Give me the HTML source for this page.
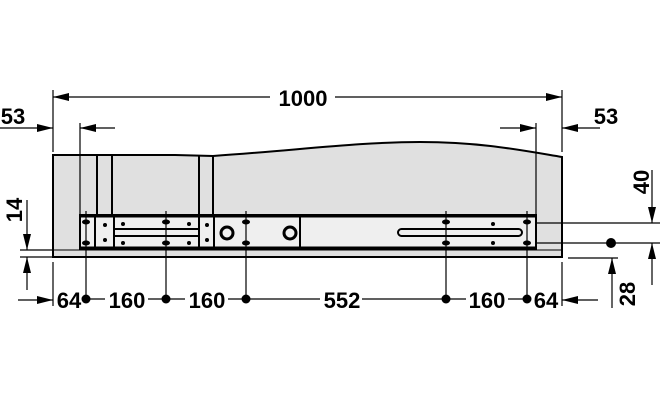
<!DOCTYPE html>
<html><head><style>body{margin:0;background:#fff}svg{display:block}</style></head><body>
<svg width="660" height="400" viewBox="0 0 660 400" xmlns="http://www.w3.org/2000/svg" font-family="Liberation Sans, sans-serif" font-weight="bold">
<defs>
<marker id="b" viewBox="0 0 16 8" refX="16" refY="4" markerWidth="16" markerHeight="8" orient="auto" markerUnits="userSpaceOnUse"><path d="M0,0L16,4L0,8z" fill="#000"/></marker></defs>
<!-- panel -->
<path d="M53,155 L175,155 L213,156 C300,150 360,142 420,142 C480,142 520,150 562,157 L562,257 L53,257 Z" fill="#e0e0e0" stroke="#000" stroke-width="2"/>
<line x1="53" y1="250" x2="562" y2="250" stroke="#000" stroke-width="1"/>
<g stroke="#000" stroke-width="2"><line x1="97" y1="156" x2="97" y2="215"/><line x1="112" y1="156" x2="112" y2="215"/><line x1="199" y1="156" x2="199" y2="215"/><line x1="213" y1="156" x2="213" y2="215"/></g>
<!-- rail -->
<rect x="80" y="215" width="456" height="34" fill="#efefef" stroke="#000" stroke-width="2"/>
<line x1="80" y1="216" x2="536" y2="216" stroke="#000" stroke-width="3"/>
<line x1="80" y1="248" x2="536" y2="248" stroke="#000" stroke-width="3"/>
<g stroke="#000" stroke-width="2" fill="none"><line x1="95" y1="216" x2="95" y2="248"/><line x1="114" y1="216" x2="114" y2="248"/><line x1="199" y1="216" x2="199" y2="248"/><line x1="214" y1="216" x2="214" y2="248"/><line x1="300" y1="216" x2="300" y2="248"/>
<line x1="114" y1="229" x2="199" y2="229"/><line x1="114" y1="236" x2="199" y2="236"/>
<rect x="398" y="229" width="124" height="7" rx="3.5"/>
<circle cx="227" cy="233" r="6" stroke-width="3"/><circle cx="290" cy="233" r="6" stroke-width="3"/></g>
<g fill="#000"><circle cx="105" cy="225" r="2"/><circle cx="105" cy="240" r="2"/><circle cx="123" cy="224" r="2"/><circle cx="123" cy="243" r="2"/><circle cx="189" cy="224" r="2"/><circle cx="189" cy="243" r="2"/><circle cx="207" cy="225" r="2"/><circle cx="207" cy="240" r="2"/><circle cx="493" cy="224" r="2"/><circle cx="493" cy="243" r="2"/>
<g><ellipse cx="86" cy="222" rx="4" ry="2.5"/><ellipse cx="86" cy="243" rx="4" ry="2.5"/><ellipse cx="166" cy="222" rx="4" ry="2.5"/><ellipse cx="166" cy="243" rx="4" ry="2.5"/><ellipse cx="246" cy="222" rx="4" ry="2.5"/><ellipse cx="246" cy="243" rx="4" ry="2.5"/><ellipse cx="446" cy="222" rx="4" ry="2.5"/><ellipse cx="446" cy="243" rx="4" ry="2.5"/><ellipse cx="527" cy="222" rx="4" ry="2.5"/><ellipse cx="527" cy="243" rx="4" ry="2.5"/></g></g>
<g stroke="#000" stroke-width="1.2"><line x1="86" y1="211" x2="86" y2="299"/><line x1="166" y1="211" x2="166" y2="299"/><line x1="246" y1="211" x2="246" y2="299"/><line x1="446" y1="211" x2="446" y2="299"/><line x1="527" y1="211" x2="527" y2="299"/>
<line x1="80" y1="123" x2="80" y2="215"/><line x1="536" y1="123" x2="536" y2="215"/>
<line x1="53" y1="90" x2="53" y2="152"/><line x1="562" y1="90" x2="562" y2="152"/>
<line x1="53" y1="262" x2="53" y2="306"/><line x1="562" y1="262" x2="562" y2="306"/>
<line x1="270" y1="97" x2="53" y2="97" marker-end="url(#b)"/>
<line x1="335" y1="97" x2="562" y2="97" marker-end="url(#b)"/>
<line x1="0" y1="128" x2="53" y2="128" marker-end="url(#b)"/>
<line x1="115" y1="128" x2="80" y2="128" marker-end="url(#b)"/>
<line x1="500" y1="128" x2="536" y2="128" marker-end="url(#b)"/>
<line x1="600" y1="128" x2="562" y2="128" marker-end="url(#b)"/>
<line x1="20" y1="250" x2="53" y2="250"/><line x1="20" y1="257" x2="53" y2="257"/>
<line x1="27" y1="200" x2="27" y2="250" marker-end="url(#b)"/>
<line x1="27" y1="290" x2="27" y2="257" marker-end="url(#b)"/>
<line x1="536" y1="223" x2="660" y2="223"/><line x1="536" y1="243" x2="660" y2="243"/>
<line x1="568" y1="258" x2="618" y2="258"/>
<line x1="652" y1="170" x2="652" y2="223" marker-end="url(#b)"/>
<line x1="652" y1="285" x2="652" y2="243" marker-end="url(#b)"/>
<line x1="612" y1="308" x2="612" y2="258" marker-end="url(#b)"/>
<line x1="18" y1="300" x2="53" y2="300" marker-end="url(#b)"/>
<line x1="598" y1="300" x2="562" y2="300" marker-end="url(#b)"/>
<line x1="86" y1="299" x2="105" y2="299"/><line x1="148" y1="299" x2="185" y2="299"/><line x1="228" y1="299" x2="320" y2="299"/><line x1="362" y1="299" x2="466" y2="299"/><line x1="508" y1="299" x2="527" y2="299"/>
</g>
<g fill="#000"><circle cx="86" cy="299" r="4.5"/><circle cx="166" cy="299" r="4.5"/><circle cx="246" cy="299" r="4.5"/><circle cx="446" cy="299" r="4.5"/><circle cx="527" cy="299" r="4.5"/><circle cx="611" cy="243" r="5"/></g>
<g font-size="22" fill="#000">
<text x="303" y="106" text-anchor="middle">1000</text>
<text x="13" y="124" text-anchor="middle">53</text>
<text x="606" y="124" text-anchor="middle">53</text>
<text x="69" y="308" text-anchor="middle">64</text>
<text x="127" y="308" text-anchor="middle">160</text>
<text x="207" y="308" text-anchor="middle">160</text>
<text x="342" y="308" text-anchor="middle">552</text>
<text x="487" y="308" text-anchor="middle">160</text>
<text x="546" y="308" text-anchor="middle">64</text>
<text transform="translate(22,210) rotate(-90)" text-anchor="middle">14</text>
<text transform="translate(649,182) rotate(-90)" text-anchor="middle">40</text>
<text transform="translate(635,294) rotate(-90)" text-anchor="middle">28</text>
</g>
</svg>
</body></html>
